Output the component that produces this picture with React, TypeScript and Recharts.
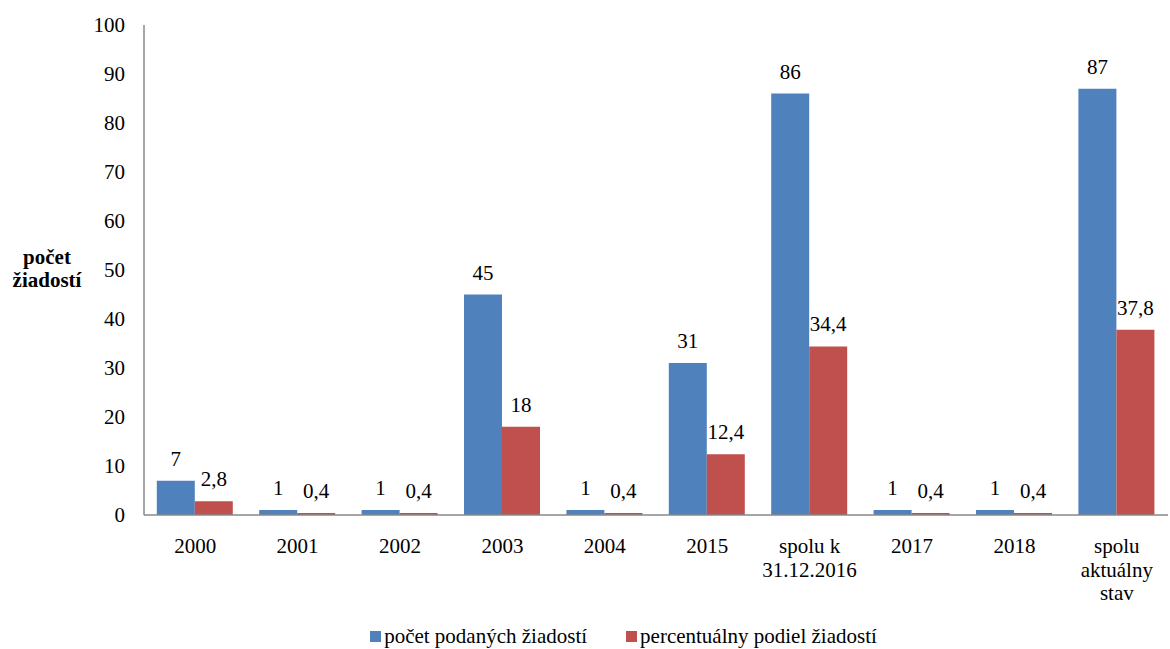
import React from 'react'
import { Bar, BarChart, LabelList, Legend, XAxis, YAxis } from 'recharts';

const categories = ['2000', '2001', '2002', '2003', '2004', '2015', 'spolu k\n31.12.2016', '2017', '2018', 'spolu\naktuálny\nstav'];
const pocet = [7, 1, 1, 45, 1, 31, 86, 1, 1, 87];
const podiel = [2.8, 0.4, 0.4, 18, 0.4, 12.4, 34.4, 0.4, 0.4, 37.8];
const yTicks = [0, 10, 20, 30, 40, 50, 60, 70, 80, 90, 100];

const BLUE = '#4F81BD';
const RED = '#C0504D';
const FONT = 'Liberation Serif';
const FS = 21;

const data = categories.map((c, i) => ({ name: c, pocet: pocet[i], podiel: podiel[i] }));

const fmt = (v: any) => String(v).replace('.', ',');

const XTick = (props: any) => {
    const { x, y, payload } = props;
    const lines = String(payload.value).split('\n');
    return (
        <text x={x} y={y + 30} textAnchor='middle' fill='#000' fontSize={FS} fontFamily={FONT}>
            {lines.map((l, i) => (
                <tspan key={i} x={x} dy={i === 0 ? 0 : 23.5}>{l}</tspan>
            ))}
        </text>
    );
};

const LegendBox = () => (
    <div style={{ display: 'flex', justifyContent: 'center', fontFamily: FONT, fontSize: FS, color: '#000', height: 24,
        lineHeight: '24px', paddingLeft: 79 }}>
        <div style={{ display: 'flex', alignItems: 'center', marginRight: 39 }}>
            <span style={{ width: 11, height: 11, background: BLUE, display: 'inline-block', marginRight: 3 }} />
            počet podaných žiadostí
        </div>
        <div style={{ display: 'flex', alignItems: 'center' }}>
            <span style={{ width: 11, height: 11, background: RED, display: 'inline-block', marginRight: 3 }} />
            percentuálny podiel žiadostí
        </div>
    </div>
);

const App = () => {
    return (
        <div style={{ position: 'absolute', left: 0, top: 0, width: 1170, height: 649, background: '#fff', fontFamily: FONT }}>
            <BarChart width={1170} height={649} data={data} margin={{ top: 25, right: 2, left: 0, bottom: 0 }}
                barCategoryGap='12.5%' barGap={0}>
                <XAxis dataKey='name' interval={0} tickLine={false} axisLine={{ stroke: '#888', strokeWidth: 1.5 }}
                    tick={<XTick />} height={110} />
                <YAxis domain={[0, 100]} ticks={yTicks} width={144} tickLine={false}
                    axisLine={{ stroke: '#888', strokeWidth: 1.5 }} tickMargin={13}
                    tick={{ fill: '#000', fontSize: FS, fontFamily: FONT }} />
                <Legend content={<LegendBox />} verticalAlign='bottom' wrapperStyle={{ bottom: 1 }} />
                <Bar dataKey='pocet' fill={BLUE} isAnimationActive={false}>
                    <LabelList dataKey='pocet' position='top' offset={15} formatter={fmt}
                        fill='#000' fontSize={FS} fontFamily={FONT} />
                </Bar>
                <Bar dataKey='podiel' fill={RED} isAnimationActive={false}>
                    <LabelList dataKey='podiel' position='top' offset={15} formatter={fmt}
                        fill='#000' fontSize={FS} fontFamily={FONT} />
                </Bar>
            </BarChart>
            <div style={{ position: 'absolute', left: 0, width: 94, top: 246, textAlign: 'center', fontFamily: FONT,
                fontSize: FS, fontWeight: 'bold', lineHeight: '23px', color: '#000' }}>
                počet<br />žiadostí
            </div>
        </div>
    )
}

export default App
